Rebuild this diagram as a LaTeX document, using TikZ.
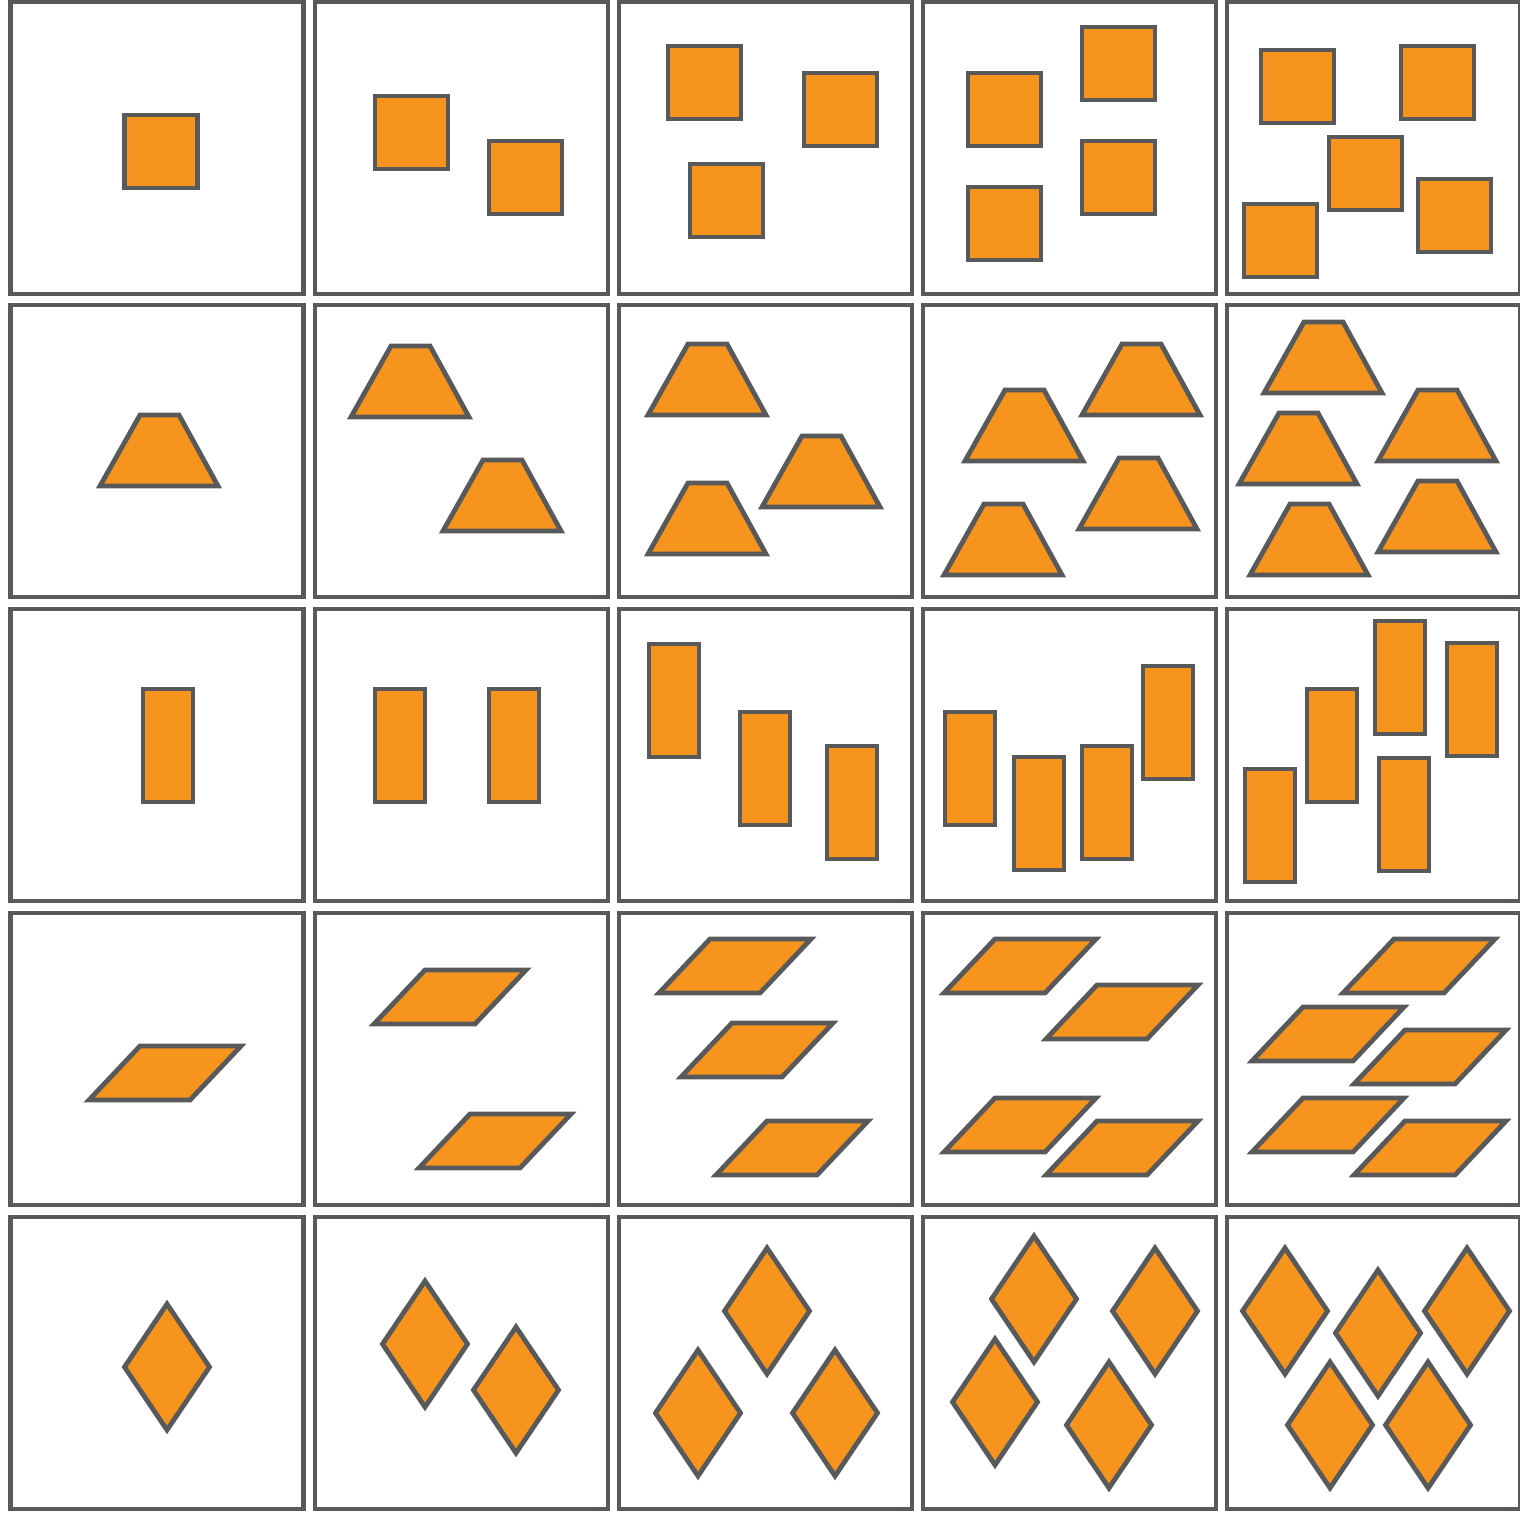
\documentclass[tikz,border=0pt]{standalone}
\definecolor{shapeorange}{HTML}{F7941D}
\definecolor{edgegray}{HTML}{58595B}
\newcommand\mySq[2]{\draw[shp] (#1,#2) rectangle ++(73,73);}
\newcommand\myTrap[2]{\draw[shp] (#1,#2) -- ++(40,-71) -- ++(39,0) -- ++(39,71) -- cycle;}
\newcommand\myRect[2]{\draw[shp] (#1,#2) rectangle ++(50,113);}
\newcommand\myPara[2]{\draw[shp] (#1,#2) -- ++(51,-54) -- ++(101,0) -- ++(-51,54) -- cycle;}
\newcommand\myDia[2]{\draw[shp] (#1,#2-63) -- (#1+42.5,#2) -- (#1,#2+63) -- (#1-42.5,#2) -- cycle;}
\begin{document}
\begin{tikzpicture}[x=1pt,y=-1pt,
  cellbox/.style={draw=edgegray,line width=4.8pt,fill=white},
  shp/.style={draw=edgegray,line width=4.8pt,fill=shapeorange,line join=miter}]
\useasboundingbox (0,0) rectangle (1520,1517);
\fill[white] (0,0) rectangle (1520,1517);
\foreach \x in {10.5,315,619,923,1227}{
  \foreach \y in {2,305,609,913,1217}{
    \draw[cellbox] (\x,\y) rectangle ++(293,292);
  }
}
% row 1 squares
\mySq{124.5}{115}
\mySq{375}{96}\mySq{489}{141}
\mySq{668}{46}\mySq{804}{73}\mySq{690}{164}
\mySq{968}{73}\mySq{1082}{27}\mySq{1082}{141}\mySq{968}{187}
\mySq{1261}{50}\mySq{1401}{46}\mySq{1329}{137}\mySq{1418}{179}\mySq{1244}{204}
% row 2 trapezoids
\myTrap{100}{486}
\myTrap{351}{417}\myTrap{443}{531}
\myTrap{648}{415}\myTrap{762}{507}\myTrap{648}{554}
\myTrap{965}{461}\myTrap{1082}{415}\myTrap{1079}{529}\myTrap{944}{575}
\myTrap{1264}{393}\myTrap{1378}{461}\myTrap{1239}{484}\myTrap{1378}{552}\myTrap{1250}{575}
% row 3 rectangles
\myRect{143}{689}
\myRect{375}{689}\myRect{489}{689}
\myRect{649}{644}\myRect{740}{712}\myRect{827}{746}
\myRect{945}{712}\myRect{1014}{757}\myRect{1082}{746}\myRect{1143}{666}
\myRect{1245}{769}\myRect{1307}{689}\myRect{1375}{621}\myRect{1447}{643}\myRect{1379}{758}
% row 4 parallelograms
\myPara{89}{1100}
\myPara{374}{1024}\myPara{419}{1168}
\myPara{659}{993}\myPara{681}{1077}\myPara{716}{1175}
\myPara{944}{993}\myPara{1046}{1039}\myPara{944}{1152}\myPara{1046}{1175}
\myPara{1343}{993}\myPara{1252}{1061}\myPara{1354}{1084}\myPara{1252}{1152}\myPara{1354}{1175}
% row 5 diamonds
\myDia{167}{1367}
\myDia{425}{1344}\myDia{516}{1390}
\myDia{767}{1311}\myDia{698}{1413}\myDia{835}{1413}
\myDia{1034}{1299}\myDia{1155}{1311}\myDia{995}{1402}\myDia{1109}{1425}
\myDia{1285}{1311}\myDia{1378}{1333}\myDia{1467}{1311}\myDia{1330}{1425}\myDia{1428}{1425}
\end{tikzpicture}
\end{document}
